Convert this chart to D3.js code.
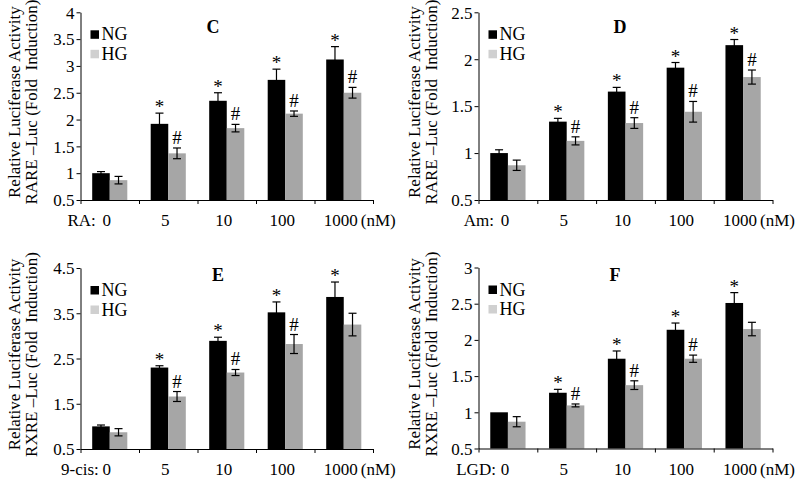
<!DOCTYPE html>
<html><head><meta charset="utf-8">
<script src="https://cdn.jsdelivr.net/npm/d3@7"></script>
<style>
body{margin:0;background:#fff}
svg{display:block}
text{font-family:"Liberation Serif","Times New Roman",serif;fill:#000;font-variant-emoji:text}
</style>
</head><body>
<svg id="chart" width="800" height="487"></svg>
<script>
// ---------- data ----------
const categories = ["0", "5", "10", "100", "1000"];
const seriesNames = ["NG", "HG"];

// Panel C (RA, RARE-Luc)
const ngC    = [1.00, 1.92, 2.35, 2.74, 3.12];
const ngErrC = [0.03, 0.20, 0.15, 0.20, 0.24];
const hgC    = [0.87, 1.37, 1.84, 2.11, 2.50];
const hgErrC = [0.07, 0.10, 0.07, 0.05, 0.10];
const sigNgC = ["", "*", "*", "*", "*"];
const sigHgC = ["", "#", "#", "#", "#"];

// Panel D (Am, RARE-Luc)
const ngD    = [1.00, 1.335, 1.655, 1.91, 2.15];
const ngErrD = [0.035, 0.035, 0.045, 0.055, 0.06];
const hgD    = [0.87, 1.13, 1.32, 1.44, 1.81];
const hgErrD = [0.055, 0.043, 0.057, 0.11, 0.075];
const sigNgD = ["", "*", "*", "*", "*"];
const sigHgD = ["", "#", "#", "#", "#"];

// Panel E (9-cis, RXRE-Luc)
const ngE    = [1.00, 2.30, 2.89, 3.52, 3.86];
const ngErrE = [0.03, 0.04, 0.08, 0.23, 0.33];
const hgE    = [0.87, 1.66, 2.19, 2.82, 3.25];
const hgErrE = [0.08, 0.11, 0.067, 0.21, 0.25];
const sigNgE = ["", "*", "*", "*", "*"];
const sigHgE = ["", "#", "#", "#", ""];

// Panel F (LGD, RXRE-Luc)
const ngF    = [1.00, 1.27, 1.74, 2.14, 2.51];
const ngErrF = [0.00, 0.047, 0.107, 0.093, 0.143];
const hgF    = [0.87, 1.095, 1.375, 1.74, 2.15];
const hgErrF = [0.07, 0.02, 0.06, 0.05, 0.093];
const sigNgF = ["", "*", "*", "*", "*"];
const sigHgF = ["", "#", "#", "#", ""];

const yTicksC = [0.5, 1, 1.5, 2, 2.5, 3, 3.5, 4];
const yTicksD = [0.5, 1, 1.5, 2, 2.5];
const yTicksE = [0.5, 1.5, 2.5, 3.5, 4.5];
const yTicksF = [0.5, 1, 1.5, 2, 2.5, 3];

const yLabel1 = "Relative Luciferase Activity";
const unitLabel = "(nM)";

// ---------- layout ----------
const FS = 17;
const panels = [
  {title:"C", prefix:"RA:", ylab2:"RARE \u2013Luc (Fold  Induction)", ng:ngC, ngErr:ngErrC, hg:hgC, hgErr:hgErrC, sigNg:sigNgC, sigHg:sigHgC, ticks:yTicksC,
   x0:80.5, x1:373, yb:200, yt:12.3, titleX:213, titleY:33, labX:20, prefOff:-14},
  {title:"D", prefix:"Am:", ylab2:"RARE \u2013Luc (Fold  Induction)", ng:ngD, ngErr:ngErrD, hg:hgD, hgErr:hgErrD, sigNg:sigNgD, sigHg:sigHgD, ticks:yTicksD,
   x0:478.5, x1:772.5, yb:200, yt:12.3, titleX:620, titleY:33, labX:420, prefOff:-14},
  {title:"E", prefix:"9-cis:", ylab2:"RXRE \u2013Luc (Fold  Induction)", ng:ngE, ngErr:ngErrE, hg:hgE, hgErr:hgErrE, sigNg:sigNgE, sigHg:sigHgE, ticks:yTicksE,
   x0:80.5, x1:373, yb:449, yt:268, titleX:218, titleY:281, labX:20, prefOff:-11},
  {title:"F", prefix:"LGD:", ylab2:"RXRE \u2013Luc (Fold  Induction)", ng:ngF, ngErr:ngErrF, hg:hgF, hgErr:hgErrF, sigNg:sigNgF, sigHg:sigHgF, ticks:yTicksF,
   x0:478.5, x1:772.5, yb:448.5, yt:267.5, titleX:615, titleY:281, labX:420, prefOff:-12}
];

const colors = {NG:"#000000", HG:"#a6a6a6"};
const legendColors = {NG:"#000000", HG:"#d0d0d0"};

const svg = d3.select("#chart");

panels.forEach(p => {
  const g = svg.append("g");
  const x = d3.scaleBand().domain(categories).range([p.x0, p.x1]).padding(0);
  const bw = x.bandwidth();
  const inner = d3.scaleBand().domain(seriesNames).range([bw * 0.2, bw * 0.8]).padding(0);
  const xEdge = d3.scaleLinear().domain([0, categories.length]).range([p.x0, p.x1]);
  const y = d3.scaleLinear().domain([p.ticks[0], p.ticks[p.ticks.length - 1]]).range([p.yb, p.yt]);

  const rows = categories.map((c, i) => ({c, i,
    vals: [
      {s:"NG", v:p.ng[i], e:p.ngErr[i], sig:p.sigNg[i]},
      {s:"HG", v:p.hg[i], e:p.hgErr[i], sig:p.sigHg[i]}
    ]}));

  // bars
  const grp = g.selectAll("g.cat").data(rows).enter().append("g")
    .attr("transform", d => `translate(${x(d.c)},0)`);
  grp.selectAll("rect").data(d => d.vals).enter().append("rect")
    .attr("x", d => inner(d.s))
    .attr("width", inner.bandwidth())
    .attr("y", d => y(d.v))
    .attr("height", d => y(p.ticks[0]) - y(d.v))
    .attr("fill", d => colors[d.s]);

  // error bars
  const eb = grp.selectAll("g.err").data(d => d.vals.filter(v => v.e > 0)).enter().append("g");
  eb.append("line")
    .attr("x1", d => inner(d.s) + inner.bandwidth() / 2)
    .attr("x2", d => inner(d.s) + inner.bandwidth() / 2)
    .attr("y1", d => y(d.v - d.e)).attr("y2", d => y(d.v + d.e))
    .attr("stroke", "#000").attr("stroke-width", 1.2);
  [1, -1].forEach(sg => {
    eb.append("line")
      .attr("x1", d => inner(d.s) + inner.bandwidth() / 2 - 4)
      .attr("x2", d => inner(d.s) + inner.bandwidth() / 2 + 4)
      .attr("y1", d => y(d.v + sg * d.e)).attr("y2", d => y(d.v + sg * d.e))
      .attr("stroke", "#000").attr("stroke-width", 1.2);
  });

  // significance markers
  grp.selectAll("text.sig").data(d => d.vals.filter(v => v.sig)).enter().append("text")
    .attr("x", d => inner(d.s) + inner.bandwidth() / 2)
    .attr("y", d => y(d.v + d.e) - (d.sig === "*" ? 0 : 4))
    .attr("text-anchor", "middle")
    .attr("font-size", 19)
    .attr("fill", "#000")
    .text(d => d.sig === "*" ? "*\uFE0E" : d.sig);

  // y axis
  const ya = g.append("g").attr("transform", `translate(${p.x0},0)`)
    .call(d3.axisLeft(y).tickValues(p.ticks).tickSize(4).tickSizeOuter(0).tickPadding(2)
      .tickFormat(d => String(+d.toFixed(1))));
  ya.attr("font-family", null).attr("font-size", null);
  ya.selectAll("text").attr("font-size", FS).attr("dy", "0.34em").attr("fill", "#000");
  ya.selectAll("path,line").attr("stroke", "#000");

  // x axis (ticks at category boundaries)
  const xa = g.append("g").attr("transform", `translate(0,${p.yb})`)
    .call(d3.axisBottom(xEdge).tickValues(d3.range(categories.length + 1)).tickSize(4).tickSizeOuter(0).tickFormat(""));
  xa.selectAll("path,line").attr("stroke", "#000");

  // category labels
  g.selectAll("text.cl").data(categories).enter().append("text")
    .attr("x", d => x(d) + bw / 2 - 3)
    .attr("y", p.yb + 26)
    .attr("text-anchor", "middle")
    .attr("font-size", FS)
    .text(d => d);
  g.append("text")
    .attr("x", x(categories[0]) + bw / 2 + p.prefOff)
    .attr("y", p.yb + 26).attr("text-anchor", "end").attr("font-size", FS)
    .text(p.prefix);
  g.append("text")
    .attr("x", x(categories[categories.length - 1]) + bw / 2 + 17)
    .attr("y", p.yb + 26).attr("text-anchor", "start").attr("font-size", FS)
    .text(unitLabel);

  // y label (two lines)
  const cy = (p.yb + p.yt) / 2 - 4;
  g.append("text").attr("transform", `translate(${p.labX},${cy}) rotate(-90)`)
    .attr("text-anchor", "middle").attr("font-size", FS).text(yLabel1);
  g.append("text").attr("transform", `translate(${p.labX + 17},${cy}) rotate(-90)`)
    .attr("text-anchor", "middle").attr("font-size", FS).style("white-space", "pre").text(p.ylab2);

  // title
  g.append("text").attr("x", p.titleX).attr("y", p.titleY)
    .attr("text-anchor", "middle").attr("font-size", 18).attr("font-weight", "bold").text(p.title);

  // legend
  const lg = g.selectAll("g.leg").data(seriesNames).enter().append("g")
    .attr("transform", (d, i) => `translate(${p.x0 + 10},${p.yt + 18 + i * 19.5})`);
  lg.append("rect").attr("width", 8.5).attr("height", 8.5).attr("fill", d => legendColors[d]);
  lg.append("text").attr("x", 11).attr("y", 10).attr("font-size", 18).text(d => d);
});
</script>
</body></html>
